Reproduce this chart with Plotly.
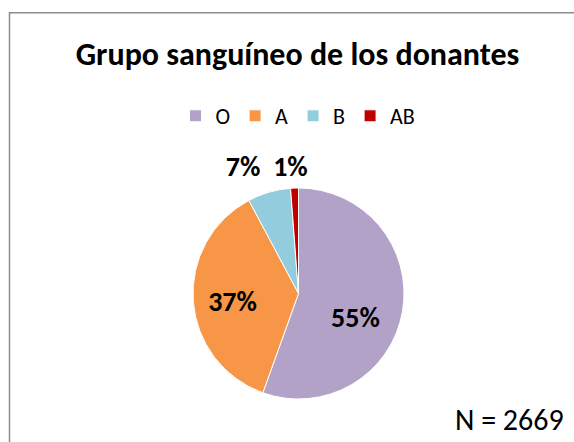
import plotly.graph_objects as go

groups = ["O", "A", "B", "AB"]
donors = [1481, 980, 176, 32]
colors = ["#B3A2C7", "#F79646", "#93CDDD", "#C00000"]
text_positions = ["inside", "inside", "outside", "outside"]
title_text = "Grupo sanguíneo de los donantes"
note_text = "N = 2669"

W, H = 574, 442
FONT = "Carlito, Calibri, Lato, sans-serif"

# pie placement in pixels (centre x, centre y, radius)
CX, CY, R = 298.5, 293.5, 105.5
# fine placement of each percentage label (pixel nudges, layout only)
label_nudges = [(5, 15), (-11, 4), (0, -10), (22, -4)]


def pie_domain(dx=0.0, dy=0.0):
    return dict(
        x=[(CX - R + dx) / W, (CX + R + dx) / W],
        y=[1 - (CY + R + dy) / H, 1 - (CY - R + dy) / H],
    )


fig = go.Figure(go.Pie(
    labels=groups,
    values=donors,
    sort=False,
    direction="clockwise",
    rotation=0,
    marker=dict(colors=colors, line=dict(color="white", width=1)),
    textinfo="none",
    hoverinfo="label+value+percent",
    domain=pie_domain(),
    automargin=False,
))

# transparent copies of the pie, each carrying one percentage label
for i, (ndx, ndy) in enumerate(label_nudges):
    tmpl = [""] * len(groups)
    tmpl[i] = "%{percent:.0%}"
    fig.add_trace(go.Pie(
        labels=groups,
        values=donors,
        sort=False,
        direction="clockwise",
        rotation=0,
        marker=dict(colors=["rgba(0,0,0,0)"] * len(groups), line=dict(width=0)),
        texttemplate=tmpl,
        textposition=text_positions,
        insidetextorientation="horizontal",
        textfont=dict(family=FONT, size=28, color="black", weight="bold"),
        hoverinfo="skip",
        showlegend=False,
        domain=pie_domain(ndx, ndy),
        automargin=False,
    ))

fig.update_layout(
    width=W, height=H,
    margin=dict(l=0, r=0, t=0, b=0),
    paper_bgcolor="white",
    plot_bgcolor="white",
    font=dict(family=FONT, color="black"),
    title=dict(
        text="<b>" + title_text + "</b>",
        font=dict(family=FONT, size=32, color="black"),
        x=297.5 / W, xanchor="center",
        y=1 - 54 / H, yanchor="middle",
    ),
    showlegend=True,
    legend=dict(
        orientation="h",
        x=298 / W, xanchor="center",
        y=1 - 116 / H, yanchor="middle",
        font=dict(family=FONT, size=22, color="black"),
        itemclick=False,
        traceorder="normal",
    ),
    shapes=[dict(
        type="rect", xref="paper", yref="paper",
        x0=9.5 / W, x1=1.2, y0=-0.2, y1=1 - 12.7 / H,
        line=dict(color="#8C8C8C", width=1.5),
        fillcolor="rgba(0,0,0,0)", layer="below",
    )],
    annotations=[dict(
        text=note_text, xref="paper", yref="paper",
        x=566 / W, xanchor="right",
        y=1 - 419 / H, yanchor="middle",
        showarrow=False,
        font=dict(family=FONT, size=30, color="black"),
    )],
)

fig.write_html(
    "out.html",
    config=dict(displayModeBar=False),
    post_script="document.body.style.margin='0';document.body.style.overflow='hidden';",
)
